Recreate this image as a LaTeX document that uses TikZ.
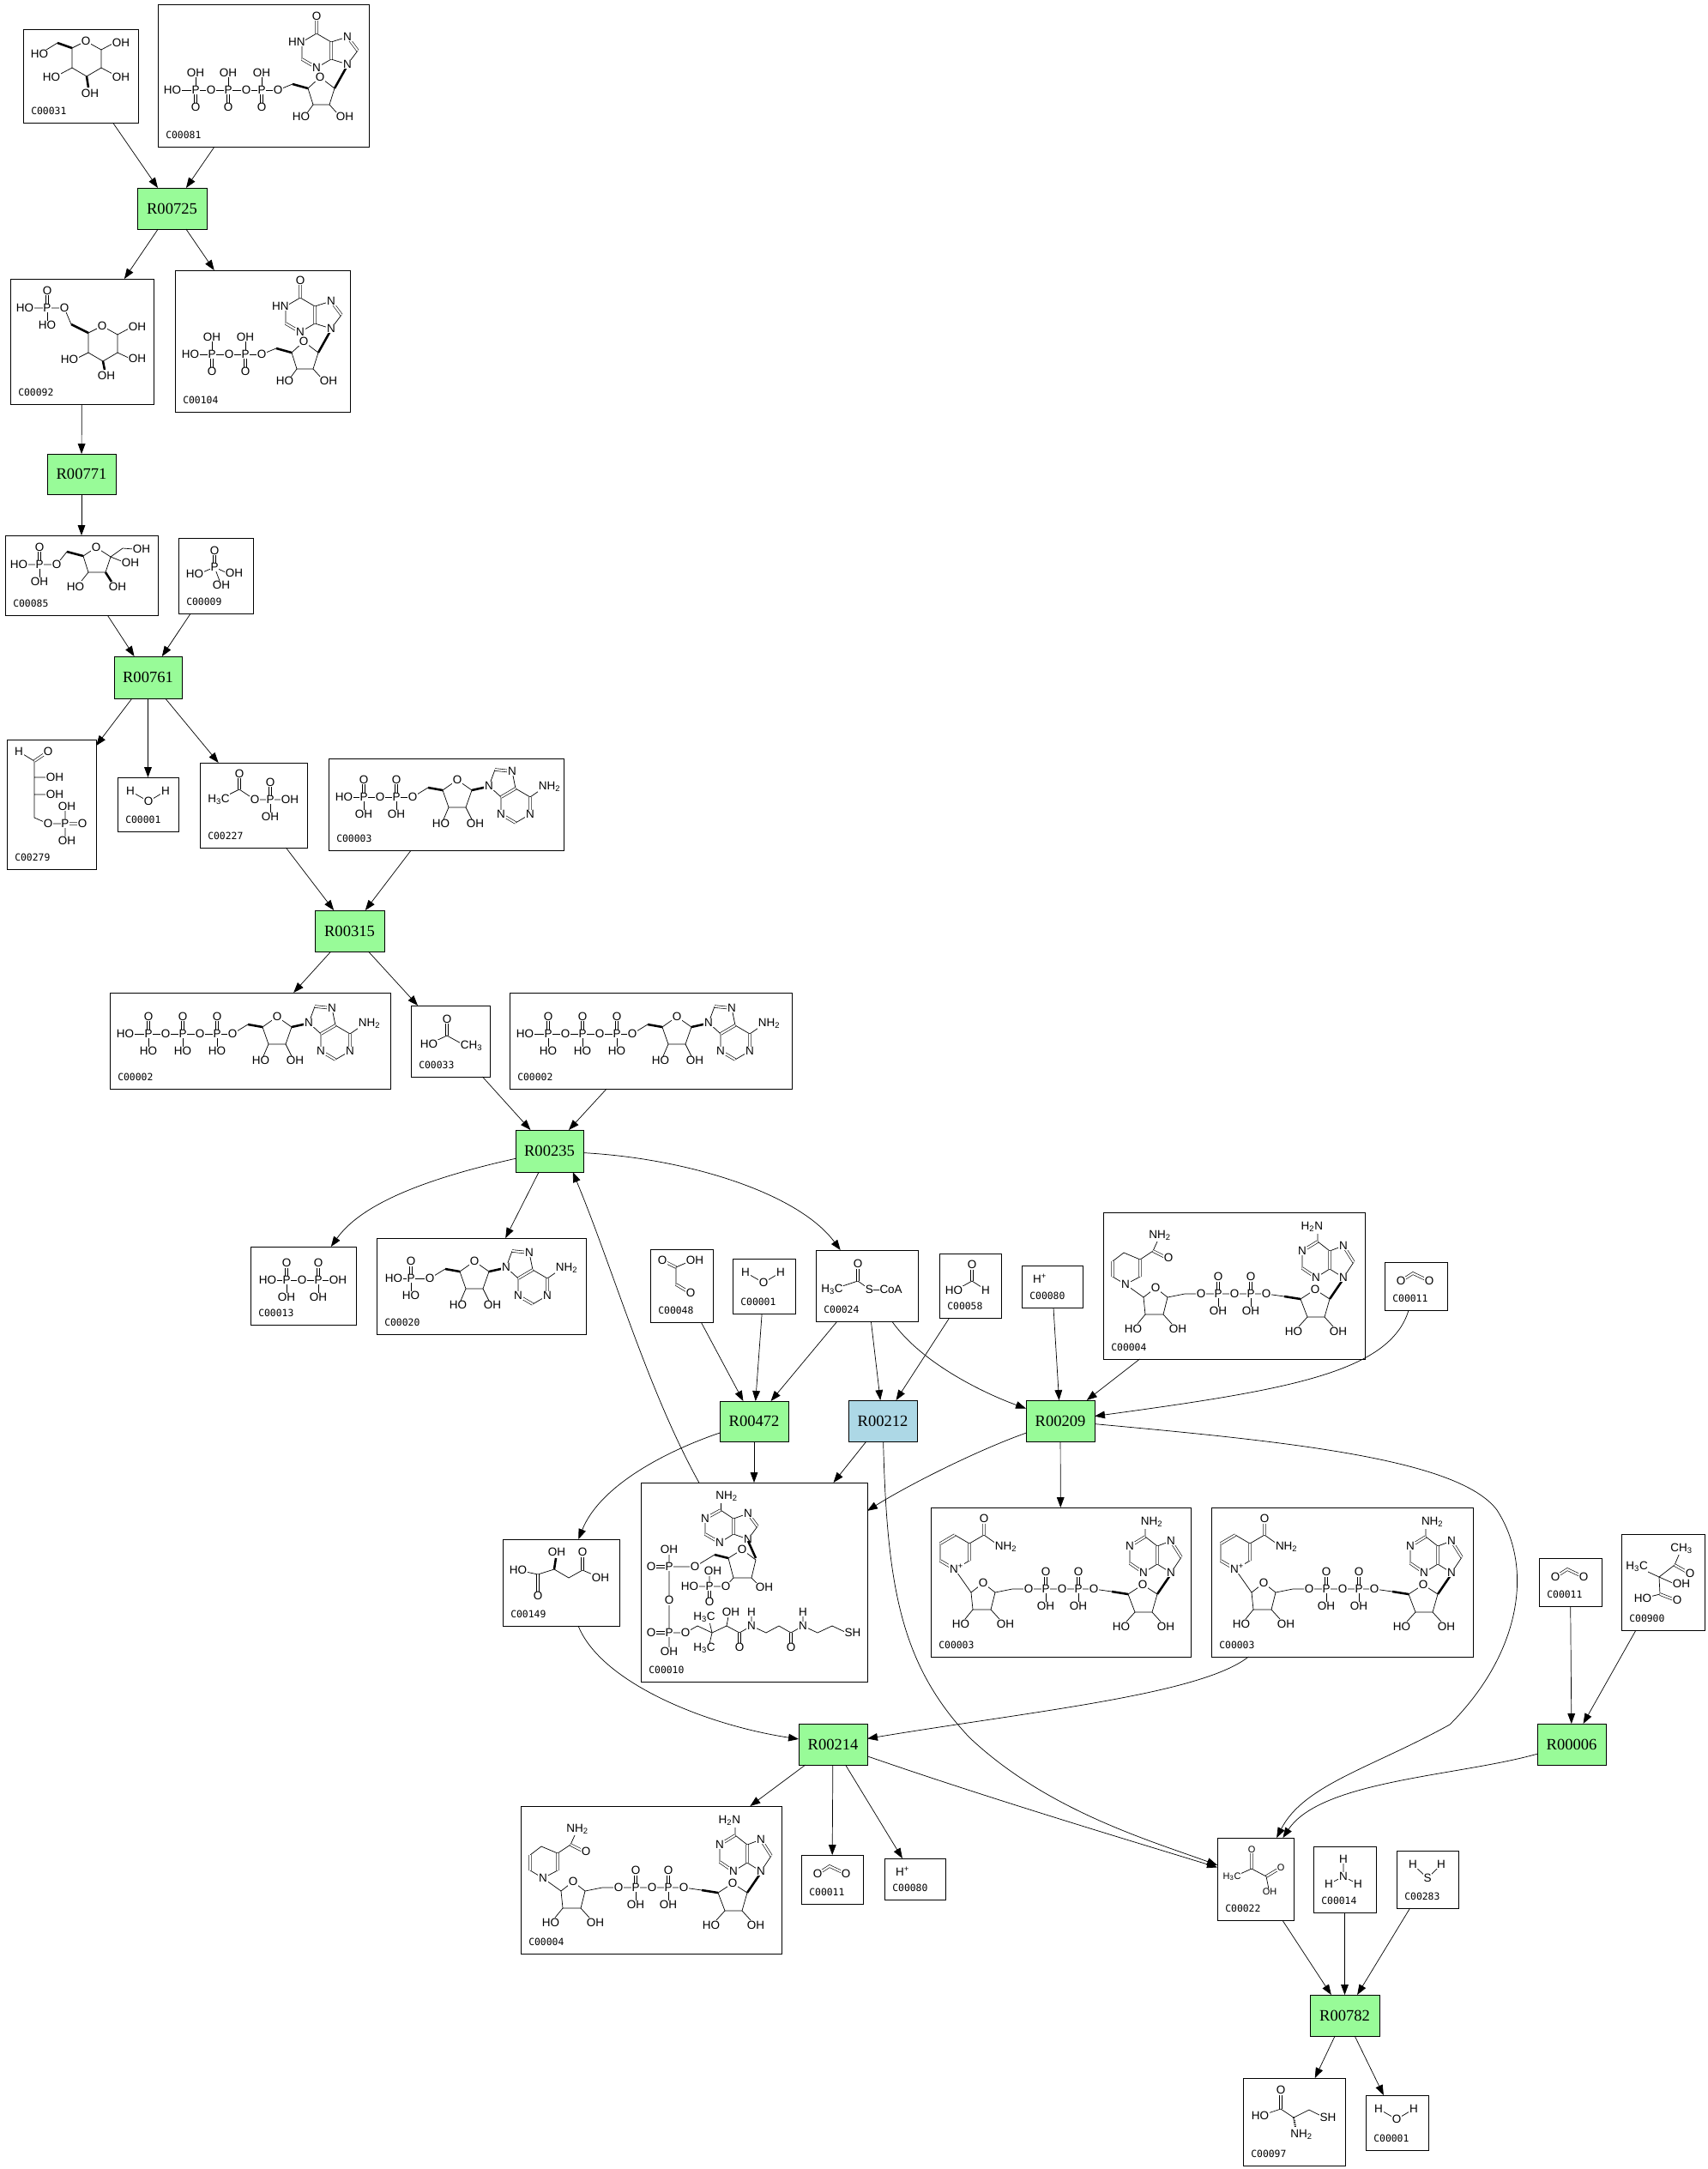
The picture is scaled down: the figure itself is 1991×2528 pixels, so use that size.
\documentclass[tikz,border=0pt]{standalone}
\usepackage{fontspec}
\usetikzlibrary{arrows.meta}
\newfontfamily\rxnfam{Liberation Serif}
\newfontfamily\idfam{DejaVu Sans Mono}
\newfontfamily\atfam{Liberation Sans}
\newcommand\rxnfont{\rxnfam\fontsize{13.2}{14}\selectfont}
\newcommand\idfont{\idfam\fontsize{8.1}{9}\selectfont}
\newcommand\atomfont{\atfam\fontsize{9.6}{10}\selectfont}
\newcommand\satomfont{\atfam\fontsize{7.8}{8}\selectfont}
\definecolor{rgreen}{RGB}{152,251,152}
\definecolor{rblue}{RGB}{173,216,230}
\newcommand\atm[3]{\node[atom] at (#1,#2) {#3};}
\newcommand\Pd[4]{\draw[dbond] (#1,#2)--(#1,#2-18);\draw[bond] (#1,#2)--(#1,#2+18);\atm{#1}{#2-20}{#3}\atm{#1}{#2+20}{#4}\atm{#1}{#2}{P}}
\newcommand\Pu[4]{\draw[bond] (#1,#2)--(#1,#2-18);\draw[dbond] (#1,#2)--(#1,#2+18);\atm{#1}{#2-20}{#3}\atm{#1}{#2+20}{#4}\atm{#1}{#2}{P}}
\newcommand\cpd[6]{\node[cbox,minimum width={(#4-#2)*0.25mm},minimum height={(#5-#3)*0.25mm}] (#1) at ({(#2+#4)/2},{(#3+#5)/2}) {};\node[clabel] at ({#2+9},{#5-14}) {#6};}
\newcommand\rxn[7]{\node[rxn,fill=#7,minimum width={(#4-#2)*0.25mm},minimum height={(#5-#3)*0.25mm}] (#1) at ({(#2+#4)/2},{(#3+#5)/2}) {#6};}
\newcommand\nadcore{%
 \draw[bond] (47,99)--(61,88)--(75,99)--(70,119)--(49,119)--cycle;
 \draw[bond] (49,119)--(40,130) (70,119)--(80,130);
 \draw[bond] (75,99)--(95,95)--(190,95)--(211,98);
 \draw[wdg] (211,98)--(230,101);
 \draw[bond] (230,101)--(247,90)--(264,101)--(258,122)--(238,122)--cycle;
 \draw[bond] (238,122)--(228,133) (258,122)--(268,133);
 \Pd{134}{95}{O}{OH}\Pd{172}{95}{O}{OH}
 \atm{114}{95}{O}\atm{153}{95}{O}\atm{190}{95}{O}
 \atm{61}{88}{O}\atm{247}{90}{O}\atm{35}{136}{HO}\atm{87}{136}{OH}\atm{222}{139}{HO}\atm{274}{139}{OH}
 \draw[wdg] (264,101)--(279,79);
 \draw[bond] (232,45)--(232,65) (248,76)--(264,66) (264,45)--(250,34) (264,45)--(280,39) (292,58)--(280,76)--(264,66) (250,34)--(250,25);
 \draw[dbond] (250,34)--(232,45) (232,65)--(248,76) (264,66)--(264,45) (280,39)--(292,58);
 \atm{232}{45}{N}\atm{248}{76}{N}\atm{280}{39}{N}\atm{280}{76}{N}}
\tikzset{
 conn/.style={line width=0.5pt,-{Triangle[length=8.5pt,width=6.2pt]}},
 cbox/.style={draw,line width=0.7pt,inner sep=0pt,outer sep=0pt},
 rxn/.style={draw,line width=0.7pt,inner sep=0pt,outer sep=0pt,font=\rxnfont},
 clabel/.style={font=\idfont,inner sep=0pt,anchor=west},
 bond/.style={line width=0.5pt},
 dbond/.style={double,double distance=1.5pt,line width=0.45pt},
 wdg/.style={line width=1.8pt},
 atom/.style={font=\atomfont,inner sep=0.5pt,fill=white},
 satom/.style={font=\satomfont,inner sep=0.4pt,fill=white},
 adenoH/.pic={
  \draw[bond] (0,0)--(18,-11);
  \draw[wdg] (18,-11)--(35,-8);
  \draw[bond] (35,-8)--(52,-20)--(69,-8)--(62,12)--(42,12)--cycle;
  \draw[bond] (42,12)--(36,26) (62,12)--(69,26);
  \draw[wdg] (69,-8)--(87,-12);
  \draw[bond] (89,-13)--(96,-32) (116,-30)--(120,-10) (103,0)--(89,-13) (120,-10)--(137,0) (137,20)--(120,30) (103,20)--(103,0) (137,0)--(150,-9);
  \draw[dbond] (96,-32)--(116,-30) (120,-10)--(103,0) (137,0)--(137,20) (120,30)--(103,20);
  \atm{52}{-20}{O}\atm{89}{-13}{N}\atm{116}{-30}{N}\atm{137}{20}{N}\atm{103}{20}{N}
  \atm{33}{31}{HO}\atm{73}{31}{OH}
  \node[atom,anchor=west] at (146,-12) {NH\textsubscript{2}};
 },
 inoR/.pic={
  \draw[bond] (0,0)--(17,-7);
  \draw[wdg] (17,-7)--(35,-2);
  \draw[bond] (35,-2)--(49,-15)--(66,-2)--(60,17)--(41,17)--cycle;
  \draw[bond] (41,17)--(33,28) (60,17)--(70,28);
  \draw[wdg] (66,-2)--(80,-27);
  \draw[bond] (81,-30)--(93,-46) (81,-62)--(62,-56) (62,-36)--(81,-30) (62,-36)--(45,-26) (28,-36)--(28,-56) (28,-56)--(45,-66) (45,-66)--(62,-56);
  \draw[dbond] (93,-46)--(81,-62) (62,-56)--(62,-36) (45,-26)--(28,-36) (45,-66)--(45,-84);
  \atm{49}{-15}{O}\atm{81}{-30}{N}\atm{81}{-62}{N}\atm{45}{-26}{N}\atm{45}{-86}{O}
  \node[atom,anchor=east] at (32.5,-56) {HN};
  \atm{27}{31}{HO}\atm{78}{31}{OH}
 },
 atp/.pic={
  \draw[bond] (18,48)--(143,48);
  \Pd{45}{48}{O}{HO}\Pd{85}{48}{O}{HO}\Pd{125}{48}{O}{HO}
  \atm{18}{48}{HO}\atm{65}{48}{O}\atm{105}{48}{O}
  \pic at (143,48) {adenoH};
  \atm{143}{48}{O}
 },
 adp/.pic={
  \draw[bond] (18,45)--(98,45);
  \Pd{41}{45}{O}{OH}\Pd{79}{45}{O}{OH}
  \atm{18}{45}{HO}\atm{60}{45}{O}
  \pic at (98,45) {adenoH};
  \atm{98}{45}{O}
 },
 amp/.pic={
  \draw[bond] (20,47)--(62,47);
  \Pd{40}{47}{O}{HO}
  \atm{20}{47}{HO}
  \pic at (62,47) {adenoH};
  \atm{62}{47}{O}
 },
 itp/.pic={
  \draw[bond] (17,100)--(140,100);
  \Pu{44}{100}{OH}{O}\Pu{82}{100}{OH}{O}\Pu{121}{100}{OH}{O}
  \atm{17}{100}{HO}\atm{62}{100}{O}\atm{103}{100}{O}
  \pic at (140,100) {inoR};
  \atm{140}{100}{O}
 },
 idp/.pic={
  \draw[bond] (18,98)--(101,98);
  \Pu{43}{98}{OH}{O}\Pu{82}{98}{OH}{O}
  \atm{18}{98}{HO}\atm{63}{98}{O}
  \pic at (101,98) {inoR};
  \atm{101}{98}{O}
 },
 glc/.pic={
  \draw[bond] (19,29)--(40,16);
  \draw[wdg] (40,16)--(57,22);
  \draw[bond] (57,22)--(73,14)--(91,24)--(91,45)--(74,55)--(57,45)--cycle;
  \draw[bond] (91,24)--(106,16) (91,45)--(106,53) (57,45)--(42,53);
  \draw[wdg] (74,55)--(76,68);
  \atm{19}{29}{HO}\atm{73}{14}{O}\atm{114}{16}{OH}\atm{114}{56}{OH}\atm{78}{75}{OH}\atm{33}{56}{HO}
 },
 g6p/.pic={
  \draw[bond] (17,34)--(63,34)--(71,53);
  \Pd{43}{34}{O}{HO}
  \draw[wdg] (71,53)--(91,63);
  \draw[bond] (91,63)--(107,55)--(125,65)--(125,86)--(108,96)--(91,86)--cycle;
  \draw[bond] (125,65)--(140,57) (125,86)--(140,93) (91,86)--(77,93);
  \draw[wdg] (108,96)--(110,106);
  \atm{17}{34}{HO}\atm{63}{34}{O}\atm{107}{55}{O}\atm{148}{56}{OH}\atm{148}{93}{OH}\atm{112}{113}{OH}\atm{69}{94}{HO}
 },
 f6p/.pic={
  \draw[bond] (16,34)--(60,34)--(72,19);
  \Pd{40}{34}{O}{OH}
  \draw[wdg] (72,19)--(91,24);
  \draw[bond] (91,24)--(106,14)--(123,25)--(117,43)--(97,43)--cycle;
  \draw[bond] (123,25)--(137,15)--(150,16) (123,25)--(138,31) (97,43)--(89,53);
  \draw[wdg] (117,43)--(124,54);
  \atm{16}{34}{HO}\atm{60}{34}{O}\atm{106}{14}{O}\atm{159}{16}{OH}\atm{146}{32}{OH}\atm{131}{60}{OH}\atm{82}{60}{HO}
 },
 phos/.pic={
  \draw[dbond] (42,34)--(42,17);
  \draw[bond] (42,34)--(26,41) (42,34)--(57,41) (42,34)--(48,50);
  \atm{42}{34}{P}\atm{42}{15}{O}\atm{19}{42}{HO}\atm{65}{41}{OH}\atm{50}{55}{OH}
 },
 e4p/.pic={
  \draw[bond] (14,14)--(32,25)--(32,91)--(48,98)--(68,98) (32,44)--(47,44) (32,64)--(47,64) (68,98)--(68,80) (68,98)--(68,116);
  \draw[dbond] (32,25)--(48,14) (68,98)--(86,98);
  \atm{14}{14}{H}\atm{48}{14}{O}\atm{56}{44}{OH}\atm{56}{64}{OH}\atm{48}{98}{O}\atm{68}{98}{P}\atm{70}{78}{OH}\atm{88}{98}{O}\atm{70}{118}{OH}
 },
 water/.pic={
  \draw[bond] (15,16)--(36,28)--(56,16);
  \atm{15}{16}{H}\atm{36}{28}{O}\atm{56}{16}{H}
 },
 acp/.pic={
  \draw[bond] (22,43)--(46,31)--(64,43)--(105,43);
  \draw[dbond] (46,31)--(46,15);
  \Pd{82}{43}{O}{OH}
  \atm{22}{43}{H\textsubscript{3}C}\atm{46}{13}{O}\atm{64}{43}{O}\atm{105}{43}{OH}
 },
 acet/.pic={
  \draw[dbond] (42,35)--(42,18);
  \draw[bond] (21,45)--(42,35)--(62,46);
  \atm{42}{16}{O}\atm{21}{45}{HO}\node[atom,anchor=west] at (57,47) {CH\textsubscript{3}};
 },
 ppi/.pic={
  \draw[bond] (20,39)--(102,39);
  \Pd{42}{39}{O}{OH}\Pd{79}{39}{O}{OH}
  \atm{20}{39}{HO}\atm{60}{39}{O}\atm{102}{39}{OH}
 },
 glyox/.pic={
  \draw[dbond] (30,21)--(16,14) (30,41)--(45,50);
  \draw[bond] (30,21)--(46,14) (30,21)--(30,41);
  \atm{14}{13}{O}\atm{52}{13}{OH}\atm{47}{51}{O}
 },
 accoa/.pic={
  \draw[bond] (19,46)--(49,36)--(63,46);
  \draw[dbond] (49,36)--(49,18);
  \atm{49}{16}{O}\atm{19}{46}{H\textsubscript{3}C}\node[atom,anchor=west] at (57,46) {S–CoA};
 },
 form/.pic={
  \draw[dbond] (38,32)--(38,15);
  \draw[bond] (22,41)--(38,32)--(52,41);
  \atm{38}{13}{O}\atm{17}{43}{HO}\atm{54}{43}{H}
 },
 hplus/.pic={\atm{21}{15}{H\textsuperscript{+}}},
 co2/.pic={
  \draw[dbond] (19,22)--(33,13)--(52,22);
  \atm{19}{22}{O}\atm{52}{22}{O}
 },
 nicox/.pic={
  \draw[bond] (28,32)--(45,42) (45,62)--(28,72) (11,62)--(11,42) (45,42)--(62,32)--(76,42);
  \draw[dbond] (11,42)--(28,32) (45,42)--(45,62) (28,72)--(11,62) (62,32)--(62,15);
  \draw[bond] (28,72)--(47,99);
  \atm{62}{13}{O}\node[atom,anchor=west] at (74,46) {NH\textsubscript{2}};
  \atm{30}{71}{N\textsuperscript{+}}
 },
 nicred/.pic={
  \draw[bond] (24,47)--(43,55) (43,75)--(26,84)--(11,75) (11,57)--(24,47) (43,55)--(58,45)--(63,34);
  \draw[dbond] (43,55)--(43,75) (11,75)--(11,57) (58,45)--(74,53);
  \draw[bond] (26,84)--(47,99);
  \atm{26}{84}{N}\atm{76}{53}{O}\atm{66}{27}{NH\textsubscript{2}}
 },
 nadO/.pic={\nadcore \node[atom,anchor=west] at (244,17) {NH\textsubscript{2}};},
 nadR/.pic={\nadcore \node[atom,anchor=east] at (257,17) {H\textsubscript{2}N};},
 coa/.pic={
  \draw[bond] (93,32)--(93,24);
  \draw[bond] (75,42)--(75,60) (92,70)--(108,60) (108,42)--(93,32) (108,42)--(125,36) (136,51)--(125,66)--(108,60);
  \draw[dbond] (93,32)--(75,42) (75,60)--(92,70) (108,60)--(108,42) (125,36)--(136,51);
  \atm{100}{16}{NH\textsubscript{2}}
  \atm{75}{42}{N}\atm{92}{70}{N}\atm{125}{36}{N}\atm{125}{66}{N}
  \draw[wdg] (125,68)--(134,88);
  \draw[bond] (102,88)--(118,78)--(134,90)--(129,111)--(108,111)--cycle;
  \draw[bond] (129,111)--(137,119);
  \draw[wdg] (102,88)--(86,84);
  \draw[bond] (86,84)--(63,98)--(33,98)--(33,175)--(52,175)--(66,167)--(83,175)--(100,167)--(115,175)--(129,167)--(146,175)--(161,167)--(175,175)--(189,167)--(206,175)--(223,167)--(240,175);
  \draw[dbond] (33,98)--(15,98) (33,175)--(15,175) (115,175)--(115,189) (175,175)--(175,189);
  \draw[bond] (33,98)--(33,80) (33,175)--(33,193) (83,175)--(80,162) (83,175)--(80,188) (100,167)--(102,156) (129,167)--(129,155) (189,167)--(189,155);
  \draw[bond] (108,111)--(99,121)--(58,121) (80,121)--(80,106);
  \draw[dbond] (80,121)--(80,137);
  \atm{118}{78}{O}\atm{144}{122}{OH}
  \atm{12}{98}{O}\atm{33}{98}{P}\atm{33}{78}{OH}\atm{63}{98}{O}\atm{33}{137}{O}
  \atm{12}{175}{O}\atm{33}{175}{P}\atm{33}{197}{OH}\atm{52}{175}{O}
  \atm{99}{121}{O}\atm{80}{121}{P}\atm{57}{121}{HO}\atm{84}{103}{OH}\atm{80}{139}{O}
  \atm{74}{157}{H\textsubscript{3}C}\atm{74}{193}{H\textsubscript{3}C}\atm{105}{151}{OH}\atm{115}{192}{O}
  \atm{129}{167}{N}\atm{129}{151}{H}\atm{175}{192}{O}\atm{189}{167}{N}\atm{189}{151}{H}\atm{247}{175}{SH}
 },
 mal/.pic={
  \draw[bond] (18,36)--(41,41)--(60,35)--(77,45)--(93,36)--(114,45);
  \draw[dbond] (41,41)--(41,64) (93,36)--(93,17);
  \draw[wdg] (60,35)--(62,22);
  \atm{18}{36}{HO}\atm{41}{66}{O}\atm{63}{15}{OH}\atm{93}{15}{O}\atm{114}{45}{OH}
 },
 acl/.pic={
  \draw[bond] (18,38)--(44,50)--(62,36)--(68,22) (44,50)--(62,58) (44,50)--(45,70)--(25,75);
  \draw[dbond] (62,36)--(78,45) (45,70)--(63,77);
  \atm{18}{38}{H\textsubscript{3}C}\atm{70}{17}{CH\textsubscript{3}}\atm{80}{46}{O}\atm{70}{58}{OH}\atm{25}{75}{HO}\atm{65}{77}{O}
 },
 pyr/.pic={
  \draw[dbond] (40,36)--(40,17) (57,45)--(72,36);
  \draw[bond] (20,45)--(40,36)--(57,45)--(60,60);
  \node[satom] at (40,14) {O}; \node[satom] at (17,45) {H\textsubscript{3}C}; \node[satom] at (74,35) {O}; \node[satom] at (61,63) {OH};
 },
 nh3/.pic={
  \draw[bond] (35,15)--(35,35)--(18,44) (35,35)--(52,44);
  \atm{35}{15}{H}\atm{35}{35}{N}\atm{18}{44}{H}\atm{52}{44}{H}
 },
 h2s/.pic={
  \draw[bond] (19,16)--(36,32)--(52,16);
  \atm{19}{16}{H}\atm{36}{32}{S}\atm{52}{16}{H}
 },
 cys/.pic={
  \draw[dbond] (44,36)--(44,17);
  \draw[bond] (20,44)--(44,36)--(59,46)--(77,37)--(95,46);
  \draw[dash pattern=on 0.6pt off 0.6pt,line width=1.5pt] (59,46)--(61,57);
  \atm{44}{14}{O}\atm{20}{44}{HO}\atm{99}{46}{SH}\atm{68}{66}{NH\textsubscript{2}}
 },
}
\begin{document}
\begin{tikzpicture}[x=0.25mm,y=-0.25mm]
\fill[white] (0,0) rectangle (1991,2528);
\useasboundingbox (0,0) rectangle (1991,2528);
% compounds
\cpd{c00031}{27}{34}{161}{143}{C00031}
\cpd{c00081}{184}{5}{430}{171}{C00081}
\cpd{c00092}{12}{325}{179}{471}{C00092}
\cpd{c00104}{204}{315}{408}{480}{C00104}
\cpd{c00085}{6}{624}{184}{717}{C00085}
\cpd{c00009}{208}{627}{295}{715}{C00009}
\cpd{c00279}{8}{862}{112}{1013}{C00279}
\cpd{c00001a}{137}{906}{208}{969}{C00001}
\cpd{c00227}{233}{889}{358}{988}{C00227}
\cpd{c00003a}{383}{884}{657}{991}{C00003}
\cpd{c00002a}{128}{1157}{455}{1269}{C00002}
\cpd{c00033}{479}{1172}{571}{1255}{C00033}
\cpd{c00002b}{594}{1157}{923}{1269}{C00002}
\cpd{c00013}{292}{1453}{415}{1544}{C00013}
\cpd{c00020}{439}{1443}{683}{1555}{C00020}
\cpd{c00048}{758}{1456}{831}{1541}{C00048}
\cpd{c00001b}{854}{1467}{927}{1531}{C00001}
\cpd{c00024}{951}{1457}{1070}{1540}{C00024}
\cpd{c00058}{1095}{1461}{1167}{1536}{C00058}
\cpd{c00080a}{1191}{1475}{1262}{1524}{C00080}
\cpd{c00004a}{1286}{1413}{1591}{1584}{C00004}
\cpd{c00011a}{1614}{1471}{1687}{1527}{C00011}
\cpd{c00149}{586}{1794}{722}{1895}{C00149}
\cpd{c00010}{747}{1728}{1011}{1960}{C00010}
\cpd{c00003b}{1085}{1757}{1388}{1931}{C00003}
\cpd{c00003c}{1412}{1757}{1717}{1931}{C00003}
\cpd{c00011b}{1794}{1816}{1867}{1872}{C00011}
\cpd{c00900}{1890}{1788}{1987}{1900}{C00900}
\cpd{c00004b}{607}{2105}{911}{2277}{C00004}
\cpd{c00011c}{934}{2162}{1006}{2219}{C00011}
\cpd{c00080b}{1031}{2166}{1102}{2214}{C00080}
\cpd{c00022}{1419}{2142}{1508}{2238}{C00022}
\cpd{c00014}{1531}{2152}{1604}{2229}{C00014}
\cpd{c00283}{1628}{2157}{1700}{2224}{C00283}
\cpd{c00097}{1449}{2422}{1568}{2524}{C00097}
\cpd{c00001c}{1592}{2442}{1665}{2506}{C00001}
% structures
\pic at (27,34) {glc};
\pic at (184,5) {itp};
\pic at (12,325) {g6p};
\pic at (204,315) {idp};
\pic at (6,624) {f6p};
\pic at (208,627) {phos};
\pic at (8,862) {e4p};
\pic at (137,906) {water};
\pic at (233,889) {acp};
\pic at (383,884) {adp};
\pic at (128,1157) {atp};
\pic at (479,1172) {acet};
\pic at (594,1157) {atp};
\pic at (292,1453) {ppi};
\pic at (439,1443) {amp};
\pic at (758,1456) {glyox};
\pic at (854,1467) {water};
\pic at (951,1457) {accoa};
\pic at (1095,1461) {form};
\pic at (1191,1475) {hplus};
\pic at (1286,1413) {nicred};
\pic at (1286,1413) {nadR};
\pic at (1614,1471) {co2};
\pic at (586,1794) {mal};
\pic at (747,1728) {coa};
\pic at (1085,1757) {nicox};
\pic at (1085,1757) {nadO};
\pic at (1412,1757) {nicox};
\pic at (1412,1757) {nadO};
\pic at (1794,1816) {co2};
\pic at (1890,1788) {acl};
\pic at (607,2105) {nicred};
\pic at (607,2105) {nadR};
\pic at (934,2162) {co2};
\pic at (1031,2166) {hplus};
\pic at (1419,2142) {pyr};
\pic at (1531,2152) {nh3};
\pic at (1628,2157) {h2s};
\pic at (1449,2422) {cys};
\pic at (1592,2442) {water};
% reactions
\rxn{r00725}{160}{219}{241}{267}{R00725}{rgreen}
\rxn{r00771}{55}{529}{135}{576}{R00771}{rgreen}
\rxn{r00761}{133}{765}{212}{814}{R00761}{rgreen}
\rxn{r00315}{367}{1061}{448}{1109}{R00315}{rgreen}
\rxn{r00235}{601}{1317}{680}{1366}{R00235}{rgreen}
\rxn{r00472}{839}{1633}{919}{1680}{R00472}{rgreen}
\rxn{r00212}{989}{1632}{1069}{1680}{R00212}{rblue}
\rxn{r00209}{1196}{1632}{1276}{1680}{R00209}{rgreen}
\rxn{r00214}{931}{2009}{1011}{2057}{R00214}{rgreen}
\rxn{r00006}{1792}{2009}{1872}{2057}{R00006}{rgreen}
\rxn{r00782}{1527}{2325}{1608}{2373}{R00782}{rgreen}
% straight connectors
\foreach \a/\b in {c00031/r00725,c00081/r00725,r00725/c00092,r00725/c00104,c00092/r00771,r00771/c00085,c00085/r00761,c00009/r00761,r00761/c00279,r00761/c00001a,r00761/c00227,c00227/r00315,c00003a/r00315,r00315/c00002a,r00315/c00033,c00033/r00235,c00002b/r00235,r00235/c00020,c00048/r00472,c00001b/r00472,c00024/r00472,c00024/r00212,c00058/r00212,c00080a/r00209,c00004a/r00209,r00472/c00010,r00212/c00010,r00209/c00003b,c00011b/r00006,c00900/r00006,r00214/c00004b,r00214/c00011c,r00214/c00080b,c00022/r00782,c00014/r00782,c00283/r00782,r00782/c00097,r00782/c00001c}
 {\draw[conn] (\a) -- (\b);}
% curved connectors
\draw[conn] (r00235) .. controls (490,1375) and (420,1405) .. (c00013);
\draw[conn] (r00235) .. controls (800,1350) and (930,1390) .. (c00024);
\draw[conn] (c00010) .. controls (755,1620) and (715,1480) .. (r00235.-42);
\draw[conn] (c00024) .. controls (1075,1590) and (1150,1625) .. (r00209);
\draw[conn] (c00011a) .. controls (1620,1600) and (1500,1620) .. (r00209);
\draw[conn] (r00472) .. controls (780,1690) and (700,1730) .. (c00149);
\draw[conn] (r00209) .. controls (1140,1690) and (1060,1730) .. (c00010);
\draw[conn] (r00209) .. controls (1500,1680) and (1700,1700) .. (1745,1760) .. controls (1790,1830) and (1770,1930) .. (1690,2010) .. controls (1600,2060) and (1520,2080) .. (c00022);
\draw[conn] (r00006) .. controls (1700,2070) and (1540,2075) .. (c00022);
\draw[conn] (r00212) .. controls (1034,1850) and (1050,1940) .. (1130,2025) .. controls (1220,2110) and (1340,2145) .. (c00022);
\draw[conn] (r00214) .. controls (1150,2095) and (1300,2140) .. (c00022);
\draw[conn] (c00149) .. controls (700,1960) and (820,2010) .. (r00214);
\draw[conn] (c00003c) .. controls (1400,1975) and (1200,1995) .. (r00214);
\end{tikzpicture}
\end{document}
